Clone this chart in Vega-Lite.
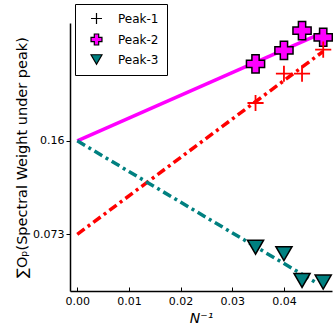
{
  "$schema": "https://vega.github.io/schema/vega-lite/v6.json",
  "width": 262,
  "height": 268,
  "autosize": "none",
  "padding": {"left": 70, "top": 23, "right": 1, "bottom": 42},
  "background": "white",
  "config": {
    "view": {"stroke": null},
    "font": "DejaVu Sans",
    "axis": {"grid": false, "domainColor": "black", "domainWidth": 1.5, "tickColor": "black", "labelColor": "black", "titleColor": "black", "labelFont": "DejaVu Sans", "titleFont": "DejaVu Sans", "labelFontSize": 11, "titleFontWeight": "normal"}
  },
  "datasets": {
    "pts": [
      {"x": 0.0345, "y": 0.1952, "s": "Peak-1"},
      {"x": 0.0400, "y": 0.2225, "s": "Peak-1"},
      {"x": 0.0435, "y": 0.2225, "s": "Peak-1"},
      {"x": 0.0476, "y": 0.2449, "s": "Peak-1"},
      {"x": 0.0345, "y": 0.2316, "s": "Peak-2"},
      {"x": 0.0400, "y": 0.2442, "s": "Peak-2"},
      {"x": 0.0435, "y": 0.2626, "s": "Peak-2"},
      {"x": 0.0476, "y": 0.2564, "s": "Peak-2"},
      {"x": 0.0345, "y": 0.0610, "s": "Peak-3"},
      {"x": 0.0400, "y": 0.0550, "s": "Peak-3"},
      {"x": 0.0435, "y": 0.0300, "s": "Peak-3"},
      {"x": 0.0476, "y": 0.0285, "s": "Peak-3"}
    ],
    "fits": [
      {"x": 0.0, "y": 0.073, "s": "Peak-1"},
      {"x": 0.0476, "y": 0.2433, "s": "Peak-1"},
      {"x": 0.0, "y": 0.16, "s": "Peak-2"},
      {"x": 0.0470, "y": 0.2595, "s": "Peak-2"},
      {"x": 0.0, "y": 0.16, "s": "Peak-3"},
      {"x": 0.0463, "y": 0.0278, "s": "Peak-3"}
    ]
  },
  "encoding": {
    "x": {"field": "x", "type": "quantitative", "scale": {"domain": [-0.00141, 0.0493], "nice": false, "zero": false},
      "axis": {"values": [0, 0.01, 0.02, 0.03, 0.04], "format": ".2f", "tickSize": -4, "labelPadding": 8, "title": "N⁻¹", "titleFontSize": 14, "titleFontStyle": "italic", "titlePadding": 5}},
    "y": {"field": "y", "type": "quantitative", "scale": {"domain": [0.0202, 0.2697], "nice": false, "zero": false},
      "axis": {"values": [0.073, 0.16], "format": ".3~f", "tickSize": 4, "labelPadding": 2, "title": "∑Oₚ(Spectral Weight under peak)", "titleFontSize": 14.5, "titlePadding": 3}}
  },
  "layer": [
    {
      "data": {"name": "fits"},
      "transform": [{"filter": "datum.s === 'Peak-2'"}],
      "mark": {"type": "line", "color": "#ff00ff", "strokeWidth": 3.5},
      "encoding": {"detail": {"field": "s"}}
    },
    {
      "data": {"name": "fits"},
      "transform": [{"filter": "datum.s !== 'Peak-2'"}],
      "mark": {"type": "line", "strokeWidth": 3.5, "strokeDash": [9, 4, 3, 4]},
      "encoding": {"detail": {"field": "s"}, "color": {"field": "s", "type": "nominal", "scale": {"domain": ["Peak-1", "Peak-3"], "range": ["#ff0000", "#008080"]}, "legend": null}}
    },
    {
      "data": {"name": "pts"},
      "transform": [{"filter": "datum.s === 'Peak-2'"}],
      "mark": {"type": "point", "filled": true, "opacity": 1, "strokeWidth": 1.5, "size": 330},
      "encoding": {
        "shape": {"field": "s", "type": "nominal", "scale": {"domain": ["Peak-1", "Peak-2", "Peak-3"], "range": ["M-1,0H1M0,-1V1", "cross", "triangle-down"]},
          "legend": {"title": null, "orient": "none", "legendX": 5, "legendY": -19, "strokeColor": "black", "fillColor": "white", "padding": 8, "labelFontSize": 12, "labelFont": "DejaVu Sans", "labelColor": "black", "symbolSize": 120, "symbolOffset": 7, "rowPadding": 4, "labelOffset": 15, "cornerRadius": 0, "symbolStrokeWidth": 1.2}},
        "fill": {"field": "s", "type": "nominal", "scale": {"domain": ["Peak-1", "Peak-2", "Peak-3"], "range": ["transparent", "#ff00ff", "#008080"]}},
        "stroke": {"field": "s", "type": "nominal", "scale": {"domain": ["Peak-1", "Peak-2", "Peak-3"], "range": ["#000000", "#000000", "#000000"]}}
      }
    },
    {
      "data": {"name": "pts"},
      "transform": [{"filter": "datum.s === 'Peak-1'"}],
      "mark": {"type": "point", "filled": true, "opacity": 1, "stroke": "#ff0000", "strokeWidth": 1.8, "size": 260},
      "encoding": {
        "shape": {"field": "s", "type": "nominal"},
        "fill": {"field": "s", "type": "nominal"}
      }
    },
    {
      "data": {"name": "pts"},
      "transform": [{"filter": "datum.s === 'Peak-3'"}],
      "mark": {"type": "point", "filled": true, "opacity": 1, "strokeWidth": 1.5, "size": 260},
      "encoding": {
        "shape": {"field": "s", "type": "nominal"},
        "fill": {"field": "s", "type": "nominal"},
        "stroke": {"field": "s", "type": "nominal"}
      }
    }
  ]
}
